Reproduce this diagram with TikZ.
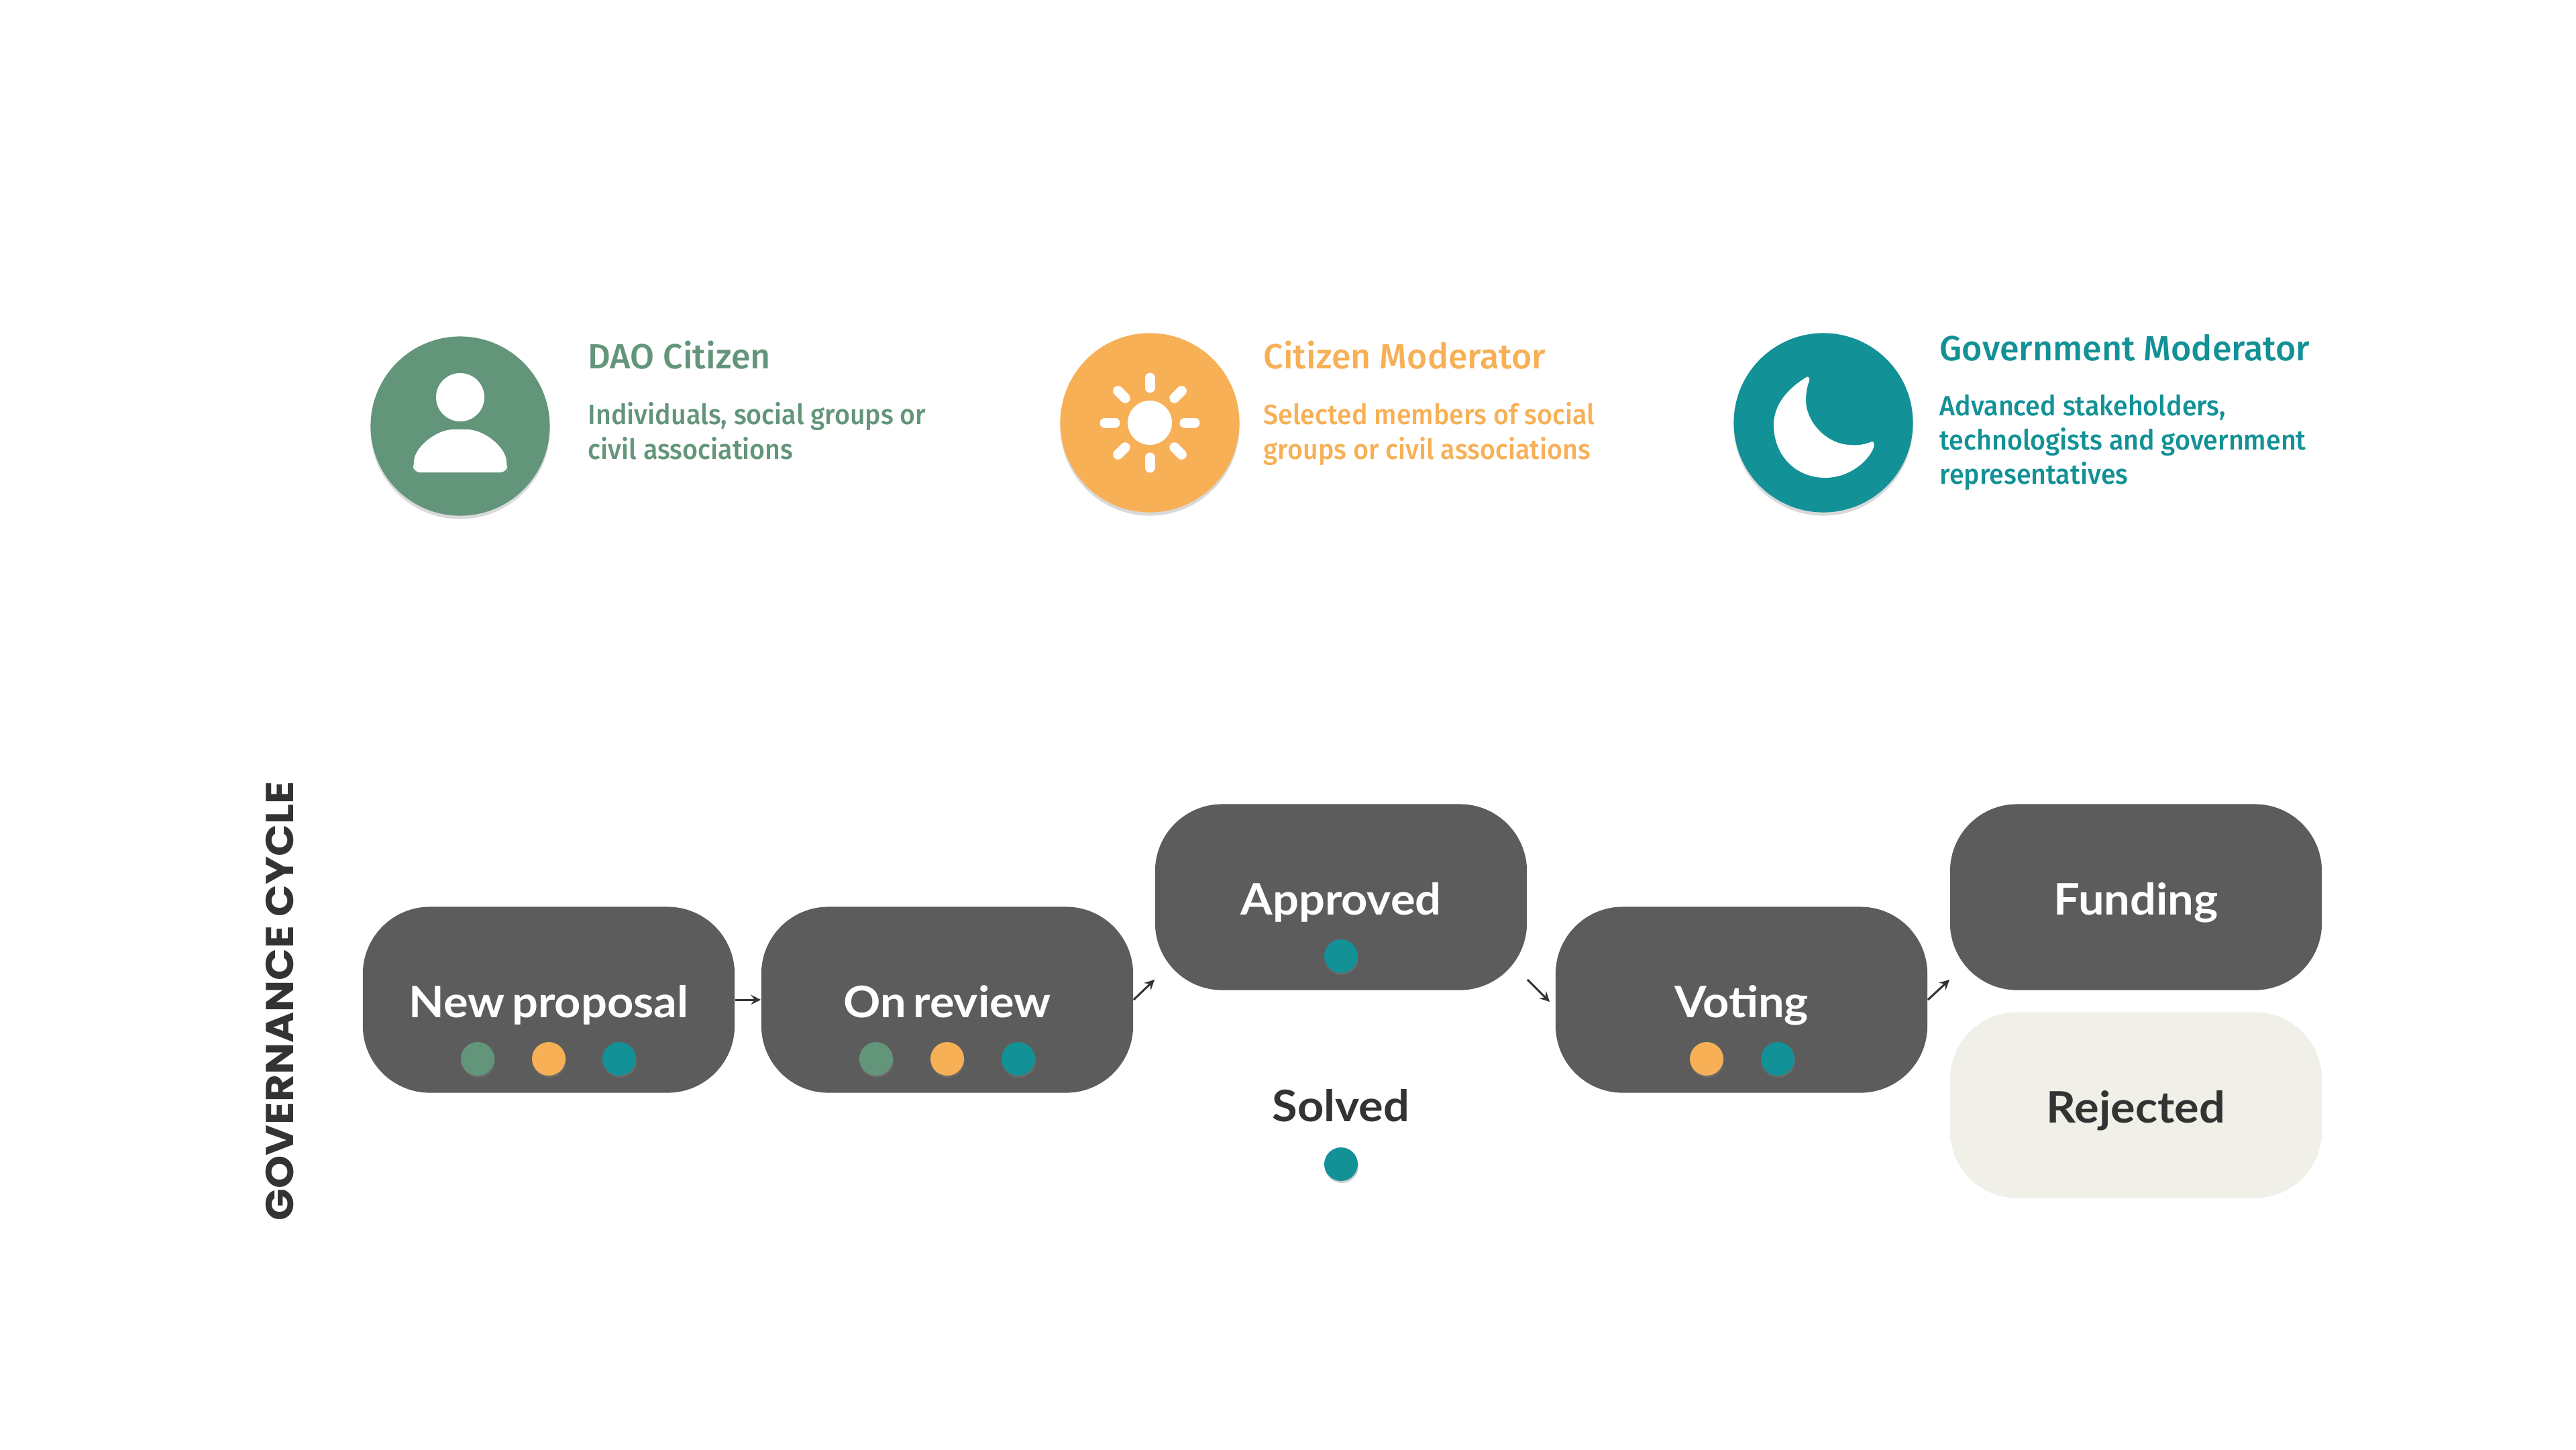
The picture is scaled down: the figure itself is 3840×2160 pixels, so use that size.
\documentclass[tikz,border=0pt]{standalone}
\usepackage{fontspec}
\usepackage{tikz}
\usetikzlibrary{calc,shadows}
\setmainfont{Fira Sans}
\newfontfamily\rolefont{Fira Sans Medium}
\newfontfamily\stagefont[FakeStretch=1.06,WordSpace=.65]{Lato}
\newfontfamily\cyclefont[FakeStretch=1.08]{Poppins}
\definecolor{citizen}{HTML}{63957A}
\definecolor{moderator}{HTML}{F7B056}
\definecolor{government}{HTML}{129196}
\definecolor{stage}{HTML}{5C5C5C}
\definecolor{rejectfill}{HTML}{F0F0E8}
\definecolor{ink}{HTML}{333333}
\tikzset{
    rolecircle/.style={circle, minimum size=2.67cm, inner sep=0, drop shadow={shadow xshift=0, shadow yshift=-.05cm, opacity=.3}},
    roletitle/.style={anchor=base west, inner sep=0, font=\rolefont\fontsize{14.8}{18}\selectfont},
    roletext/.style={anchor=north west, inner sep=0, align=left, font=\rolefont\fontsize{11.8}{14.6}\selectfont\addfontfeature{FakeStretch=.95}},
    stagebox/.style={rectangle, rounded corners=1cm, fill=stage, text=white, minimum width=5.54cm, minimum height=2.77cm, inner sep=0, text height=.52cm, text depth=0, font=\stagefont\fontsize{18.4}{20}\selectfont\bfseries},
    vote/.style={circle, minimum size=.5cm, inner sep=0, drop shadow={shadow xshift=.01cm, shadow yshift=-.03cm, opacity=.4}},
    flow/.style={->, >=stealth, ink, line width=.03cm}
}
\begin{document}
\begin{tikzpicture}[x=.01cm, y=-.01cm]
    \useasboundingbox (0,0) rectangle (3840,2160);
    % roles
    \node (dao) at (686,635) [rolecircle, fill=citizen] {};
    \node (mod) at (1714,630) [rolecircle, fill=moderator] {};
    \node (gov) at (2718,630) [rolecircle, fill=government] {};
    \fill [white] ($(dao)+(0,-43)$) circle (36);
    \fill [white, rounded corners=.1cm] ($(dao)+(-70,69)$) -- ($(dao)+(-70,60)$) .. controls ($(dao)+(-66,30)$) and ($(dao)+(-35,5)$) .. ($(dao)+(0,5)$) .. controls ($(dao)+(35,5)$) and ($(dao)+(66,30)$) .. ($(dao)+(70,60)$) -- ($(dao)+(70,69)$) -- cycle;
    \fill [white] (mod) circle (33);
    \foreach \a in {0,45,...,315}
        \draw [white, line width=.15cm, line cap=round] ($(mod)+(\a:52)$) -- ($(mod)+(\a:67)$);
    \fill [white] ($(gov)+(-25,-68)$) .. controls ($(gov)+(-55,-50)$) and ($(gov)+(-74,-25)$) .. ($(gov)+(-74,3)$) .. controls ($(gov)+(-74,48)$) and ($(gov)+(-42,82)$) .. ($(gov)+(3,82)$) .. controls ($(gov)+(38,82)$) and ($(gov)+(67,58)$) .. ($(gov)+(75,37)$) .. controls ($(gov)+(77,30)$) and ($(gov)+(74,26)$) .. ($(gov)+(70,29)$) .. controls ($(gov)+(60,33)$) and ($(gov)+(50,34)$) .. ($(gov)+(38,33)$) .. controls ($(gov)+(0,30)$) and ($(gov)+(-26,-5)$) .. ($(gov)+(-26,-33)$) .. controls ($(gov)+(-26,-45)$) and ($(gov)+(-24,-55)$) .. ($(gov)+(-21,-62)$) .. controls ($(gov)+(-20,-67)$) and ($(gov)+(-23,-70)$) .. ($(gov)+(-25,-68)$) -- cycle;
    \node (daotitle) at (876,549) [roletitle, text=citizen] {DAO Citizen};
    \node (modtitle) at (1883,549) [roletitle, text=moderator] {Citizen Moderator};
    \node (govtitle) at (2891,537) [roletitle, text=government] {Government Moderator};
    \node (daotext) at (876,599) [roletext, text=citizen] {Individuals, social groups or\\civil associations};
    \node (modtext) at (1883,599) [roletext, text=moderator] {Selected members of social\\groups or civil associations};
    \node (govtext) at (2891,587) [roletext, text=government] {Advanced stakeholders,\\technologists and government\\representatives};
    % cycle
    \node (cycle) at (417,1492) [rotate=90, inner sep=0, text=ink, font=\cyclefont\fontsize{16.5}{20}\selectfont\bfseries] {GOVERNANCE CYCLE};
    \node (new) at (818,1490) [stagebox] {New proposal};
    \node (review) at (1412,1490) [stagebox] {On review};
    \node (approved) at (1999,1337) [stagebox] {Approved};
    \node (voting) at (2596,1490) [stagebox] {Voting};
    \node (funding) at (3184,1337) [stagebox] {Funding};
    \node (rejected) at (3184,1647) [stagebox, fill=rejectfill, text=ink] {Rejected};
    \node (solved) at (1999,1645) [inner sep=0, text=ink, text height=.52cm, text depth=0, font=\stagefont\fontsize{18.4}{20}\selectfont\bfseries] {Solved};
    \node (newa) at (712,1578) [vote, fill=citizen] {};
    \node (newb) at (818,1578) [vote, fill=moderator] {};
    \node (newc) at (923,1578) [vote, fill=government] {};
    \node (reviewa) at (1306,1578) [vote, fill=citizen] {};
    \node (reviewb) at (1412,1578) [vote, fill=moderator] {};
    \node (reviewc) at (1518,1578) [vote, fill=government] {};
    \node (approveda) at (1999,1425) [vote, fill=government] {};
    \node (votinga) at (2544,1578) [vote, fill=moderator] {};
    \node (votingb) at (2650,1578) [vote, fill=government] {};
    \node (solveda) at (1999,1735) [vote, fill=government] {};
    \coordinate (approvedin) at ($(approved.west)+(0,123)$);
    \coordinate (approvedout) at ($(approved.east)+(0,123)$);
    \coordinate (votingin) at ($(voting.west)+(-8,3)$);
    \coordinate (fundingin) at ($(funding.west)+(0,123)$);
    \draw [flow] (new.east) -- (review.west);
    \draw [flow] (review.east) -- (approvedin);
    \draw [flow] (approvedout) -- (votingin);
    \draw [flow] (voting.east) -- (fundingin);
\end{tikzpicture}
\end{document}
